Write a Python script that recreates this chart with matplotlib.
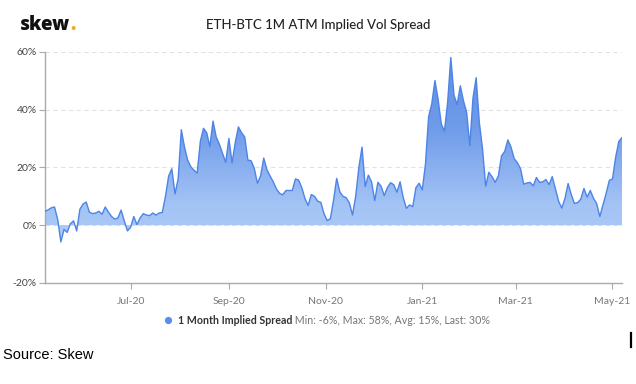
import matplotlib
matplotlib.use('Agg')
import matplotlib.pyplot as plt
import matplotlib.dates as mdates
import numpy as np
import pandas as pd
from matplotlib.colors import LinearSegmentedColormap
from matplotlib.patches import PathPatch
from matplotlib.lines import Line2D

# ---------------- data ----------------
start_date = '2020-05-08'
step_days = 2
spread = [
    4.8, 5.3, 6.0, 6.3, 2.0, -5.8, -1.5, -2.5, 0.5, 1.5,
    -2.0, 5.5, 7.3, 8.0, 4.5, 4.0, 4.2, 4.8, 3.8, 6.3,
    4.5, 3.0, 2.1, 2.5, 5.2, 1.5, -2.0, -0.8, 3.0, 0.2,
    2.5, 4.0, 3.5, 3.3, 4.2, 3.5, 4.2, 4.4, 10.0, 17.0,
    19.5, 10.8, 16.0, 33.0, 27.0, 22.5, 20.2, 19.0, 18.0, 29.0,
    33.5, 32.0, 27.2, 36.0, 30.5, 28.0, 24.8, 21.7, 30.0, 21.5,
    28.5, 34.0, 32.0, 30.5, 22.5, 22.3, 19.7, 14.5, 17.0, 23.2,
    19.2, 17.0, 15.0, 12.5, 11.0, 10.5, 12.0, 12.0, 12.0, 16.0,
    15.6, 13.0, 9.2, 6.8, 10.6, 10.0, 8.3, 7.9, 4.0, 1.6,
    2.2, 8.5, 16.2, 11.5, 10.0, 9.5, 7.7, 3.5, 10.0, 20.0,
    27.0, 13.4, 17.3, 15.0, 8.5, 14.8, 13.5, 10.2, 13.0, 14.7,
    14.0, 11.4, 15.0, 9.5, 5.8, 7.0, 6.4, 13.0, 14.5, 12.2,
    21.0, 37.5, 42.0, 50.0, 43.5, 35.0, 32.5, 42.5, 58.0, 45.0,
    41.7, 48.2, 43.0, 39.0, 27.5, 44.0, 51.0, 35.5, 26.5, 13.5,
    18.3, 16.8, 14.8, 17.0, 24.0, 25.5, 29.5, 27.0, 23.0, 21.6,
    19.5, 14.2, 14.6, 14.8, 13.6, 16.5, 14.8, 15.0, 15.8, 14.0,
    16.8, 12.5, 8.3, 5.9, 9.2, 14.4, 10.6, 7.5, 7.8, 9.0,
    12.7, 9.7, 12.0, 9.3, 7.5, 3.0, 7.0, 11.0, 15.5, 16.0,
    23.5, 29.0, 30.3,
]
x_tick_dates = ['2020-07-01', '2020-09-01', '2020-11-01', '2021-01-01', '2021-03-01', '2021-05-01']
x_tick_labels = ['Jul-20', 'Sep-20', 'Nov-20', 'Jan-21', 'Mar-21', 'May-21']
y_ticks = [-20, 0, 20, 40, 60]
series_name = '1 Month Implied Spread'
stats_text = 'Min: -6%, Max: 58%, Avg: 15%, Last: 30%'
title = 'ETH-BTC 1M ATM Implied Vol Spread'
source = 'Source: Skew'

dates = pd.date_range(start_date, periods=len(spread), freq=f'{step_days}D')
xnum = mdates.date2num(dates.to_pydatetime())
vals = np.array(spread, dtype=float)

# ---------------- figure ----------------
W, H = 636, 384
fig = plt.figure(figsize=(W / 100, H / 100), dpi=100)
fig.patch.set_facecolor('white')
left, right, top, bottom = 45, 622, 51.7, 283
ax = fig.add_axes([left / W, 1 - bottom / H, (right - left) / W, (bottom - top) / H])

# gridlines
for yv in [0, 20, 40, 60]:
    ax.axhline(yv, color='#e2e2e2', lw=0.8, dashes=(4, 3), zorder=0)

# gradient fill
poly = ax.fill_between(xnum, vals, 0, color='none', lw=0)
path = poly.get_paths()[0]
patch = PathPatch(path, transform=ax.transData, facecolor='none', edgecolor='none')
ax.add_patch(patch)
cmap = LinearSegmentedColormap.from_list('g', ['#b3cff8', '#a4c4f5', '#6f9be9', '#5f8fe6'])
grad = np.linspace(0, 1, 256).reshape(-1, 1)
im = ax.imshow(grad, cmap=cmap, aspect='auto', origin='lower',
               extent=[xnum[0], xnum[-1], -20, 60], zorder=1, interpolation='bilinear')
im.set_clip_path(patch)

ax.plot(xnum, vals, color='#4d84e6', lw=1.0, zorder=3)

ax.set_xlim(xnum[0], xnum[-1])
ax.set_ylim(-20, 60)

tick_x = mdates.date2num(pd.to_datetime(x_tick_dates).to_pydatetime())
ax.set_xticks(tick_x)
ax.set_xticklabels(x_tick_labels)
ax.set_yticks(y_ticks)
ax.set_yticklabels([f'{v}%' for v in y_ticks])

for s in ['top', 'right']:
    ax.spines[s].set_visible(False)
for s in ['left', 'bottom']:
    ax.spines[s].set_color('#aaaaaa')
    ax.spines[s].set_linewidth(1.0)

ax.tick_params(axis='y', length=4, width=0.8, color='#aaaaaa', labelsize=7.5,
               labelcolor='#444444', pad=2)
ax.tick_params(axis='x', length=4, width=0.8, color='#aaaaaa', labelsize=7.5,
               labelcolor='#777777', pad=6)
for lab in ax.get_xticklabels() + ax.get_yticklabels():
    lab.set_fontfamily('Lato')

# title & logo
fig.text(318 / W, 1 - 25 / H, title, ha='center', va='center', fontsize=9.5,
         fontfamily='Lato', fontweight='medium', color='#222222')
t_logo = fig.text(20 / W, 1 - 30 / H, 'skew', ha='left', va='baseline', fontsize=13.5,
                  fontfamily='Open Sans', fontweight='heavy', color='#111111')
ax.annotate('.', xy=(1, 0), xycoords=t_logo, ha='left', va='bottom', fontsize=13.5,
            fontfamily='Open Sans', fontweight='heavy', color='#f5a623', annotation_clip=False)

# legend
fig.add_artist(Line2D([168 / W], [1 - 320 / H], marker='o', markersize=4.2,
                      color='#5b8def', linestyle='none', transform=fig.transFigure))
t1 = fig.text(178 / W, 1 - 320 / H, series_name, ha='left', va='center', fontsize=7.7,
              fontfamily='Lato', fontweight='bold', color='#333333')
ax.annotate(' ' + stats_text, xy=(1, 0), xycoords=t1, ha='left', va='bottom', fontsize=7.7,
            fontfamily='Lato', color='#777777', annotation_clip=False)

# source
fig.text(3 / W, 1 - 355 / H, source, ha='left', va='center', fontsize=10.5,
         fontfamily='Liberation Sans', color='#000000')
fig.add_artist(Line2D([631 / W, 631 / W], [1 - 333 / H, 1 - 347 / H], color='black',
                      lw=1.6, transform=fig.transFigure))

fig.savefig('out.png', dpi=100, facecolor='white')
